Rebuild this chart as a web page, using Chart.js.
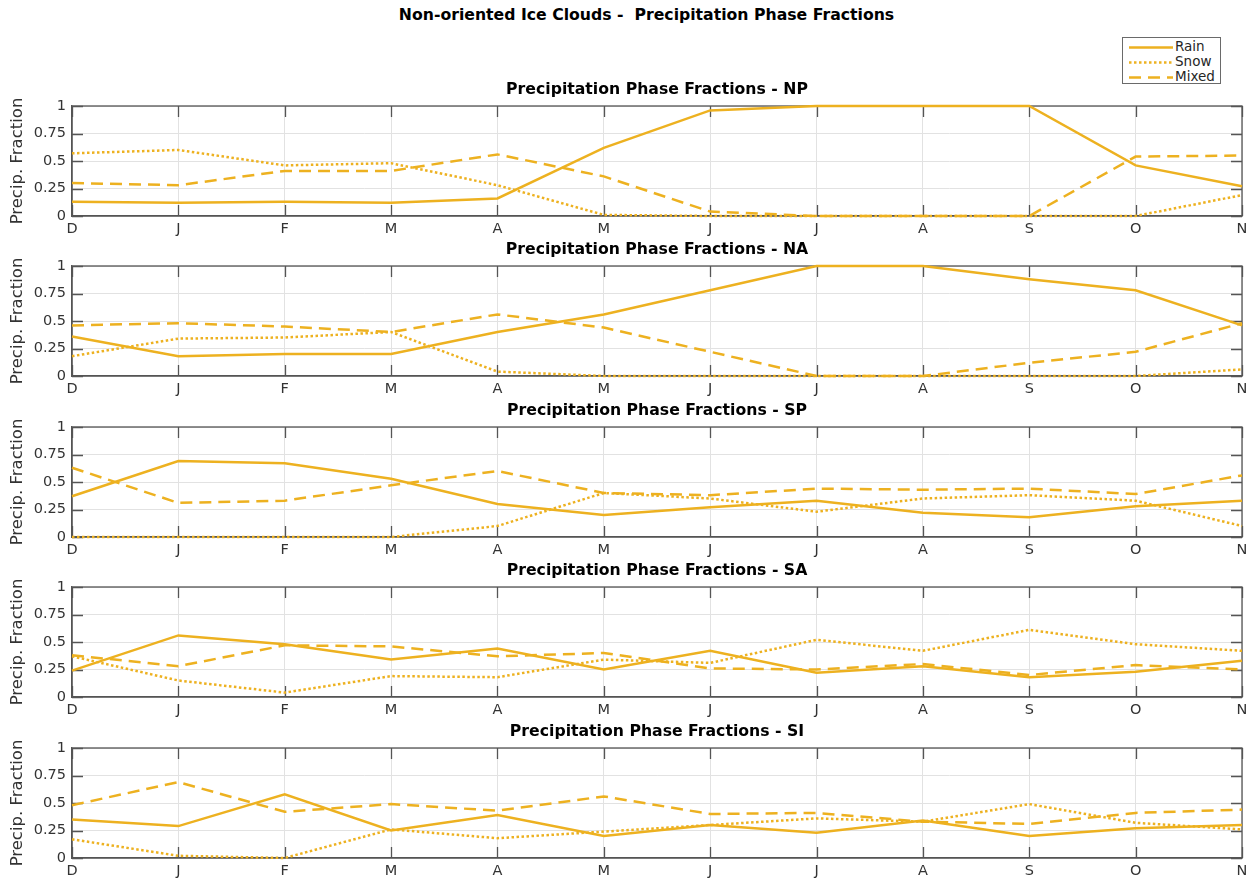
<!DOCTYPE html>
<html>
<head>
<meta charset="utf-8">
<title>Non-oriented Ice Clouds - Precipitation Phase Fractions</title>
<script src="https://cdn.jsdelivr.net/npm/chart.js@4.4.1/dist/chart.umd.min.js"></script>
<style>
  body { margin: 0; background: #fff; }
  #fig { position: relative; width: 1255px; height: 882px; background: #fff; overflow: hidden;
         font-family: "DejaVu Sans", sans-serif; }
  #suptitle { position: absolute; left: 0; width: 1293px; top: 6px; text-align: center;
              font-weight: bold; font-size: 15.7px; line-height: 18px; color: #000; white-space: pre; }
  #legend { position: absolute; left: 1122px; top: 37px; width: 97px; height: 45px;
            border: 1px solid #6a6a6a; background: #fff; }
  #legend svg { position: absolute; left: 0; top: 0; }
  #legend span { position: absolute; left: 52px; font-size: 13.5px; line-height: 15px; color: #262626; }
  canvas { position: absolute; left: 0; }
</style>
</head>
<body>
<div id="fig">
  <div id="suptitle">Non-oriented Ice Clouds -  Precipitation Phase Fractions</div>
  <div id="legend">
    <svg width="97" height="45">
      <line x1="6" y1="9.5" x2="50" y2="9.5" stroke="#EDB120" stroke-width="2.5"/>
      <line x1="6" y1="24.5" x2="50" y2="24.5" stroke="#EDB120" stroke-width="2.5" stroke-dasharray="2.5 2.5"/>
      <line x1="6" y1="39.5" x2="50" y2="39.5" stroke="#EDB120" stroke-width="2.5" stroke-dasharray="12 7"/>
    </svg>
    <span style="top:1px">Rain</span>
    <span style="top:16px">Snow</span>
    <span style="top:31px">Mixed</span>
  </div>
</div>
<script>
// Month axis (December through November)
const months = ['D', 'J', 'F', 'M', 'A', 'M', 'J', 'J', 'A', 'S', 'O', 'N'];
const regions = ['NP', 'NA', 'SP', 'SA', 'SI'];
const yTicks = [0, 0.25, 0.5, 0.75, 1];

// Precipitation phase fractions per region
const rainNP  = [0.13, 0.12, 0.13, 0.12, 0.16, 0.62, 0.96, 1.00, 1.00, 1.00, 0.46, 0.27];
const snowNP  = [0.57, 0.60, 0.46, 0.48, 0.28, 0.01, 0.00, 0.00, 0.00, 0.00, 0.00, 0.19];
const mixedNP = [0.30, 0.28, 0.41, 0.41, 0.56, 0.36, 0.04, 0.00, 0.00, 0.00, 0.54, 0.55];

const rainNA  = [0.36, 0.18, 0.20, 0.20, 0.40, 0.56, 0.78, 1.00, 1.00, 0.88, 0.78, 0.46];
const snowNA  = [0.18, 0.34, 0.35, 0.40, 0.04, 0.00, 0.00, 0.00, 0.00, 0.00, 0.00, 0.06];
const mixedNA = [0.46, 0.48, 0.45, 0.40, 0.56, 0.44, 0.22, 0.00, 0.00, 0.12, 0.22, 0.48];

const rainSP  = [0.37, 0.69, 0.67, 0.53, 0.30, 0.20, 0.27, 0.33, 0.22, 0.18, 0.28, 0.33];
const snowSP  = [0.00, 0.00, 0.00, 0.00, 0.10, 0.40, 0.35, 0.23, 0.35, 0.38, 0.33, 0.10];
const mixedSP = [0.63, 0.31, 0.33, 0.47, 0.60, 0.40, 0.38, 0.44, 0.43, 0.44, 0.39, 0.56];

const rainSA  = [0.24, 0.56, 0.48, 0.34, 0.44, 0.25, 0.42, 0.22, 0.28, 0.18, 0.23, 0.33];
const snowSA  = [0.37, 0.15, 0.04, 0.19, 0.18, 0.34, 0.31, 0.52, 0.42, 0.61, 0.48, 0.42];
const mixedSA = [0.38, 0.28, 0.47, 0.46, 0.37, 0.40, 0.26, 0.25, 0.30, 0.20, 0.29, 0.25];

const rainSI  = [0.35, 0.29, 0.58, 0.25, 0.39, 0.20, 0.30, 0.23, 0.34, 0.20, 0.27, 0.30];
const snowSI  = [0.17, 0.02, 0.00, 0.26, 0.18, 0.24, 0.30, 0.36, 0.33, 0.49, 0.32, 0.26];
const mixedSI = [0.48, 0.69, 0.42, 0.49, 0.43, 0.56, 0.40, 0.41, 0.33, 0.31, 0.41, 0.44];

const panelData = {
  NP: [rainNP, snowNP, mixedNP],
  NA: [rainNA, snowNA, mixedNA],
  SP: [rainSP, snowSP, mixedSP],
  SA: [rainSA, snowSA, mixedSA],
  SI: [rainSI, snowSI, mixedSI]
};

// Styling
const LINE = '#EDB120';
const GRID = '#e2e2e2';
const AXIS = '#555555';
const TEXT = '#333333';
const FONT = "'DejaVu Sans', sans-serif";
const TICK_LEN = 11;
const panelTops = [106, 266, 427, 587, 748];   // top of each plot box in page pixels
const TITLE_H = 30, XAXIS_H = 20, CANVAS_H = 160, CANVAS_W = 1255;

// Closed axes box with inward tick marks on all four sides
const boxFrame = {
  id: 'boxFrame',
  beforeDatasetsDraw(chart) {
    const { ctx, chartArea: a, scales: { x, y } } = chart;
    ctx.save();
    ctx.strokeStyle = AXIS;
    ctx.lineWidth = 1.3;
    ctx.strokeRect(a.left, a.top, a.right - a.left, a.bottom - a.top);
    ctx.beginPath();
    x.ticks.forEach((t, i) => {
      const px = Math.round(x.getPixelForTick(i)) + 0.5;
      ctx.moveTo(px, a.bottom); ctx.lineTo(px, a.bottom - TICK_LEN);
      ctx.moveTo(px, a.top);    ctx.lineTo(px, a.top + TICK_LEN);
    });
    y.ticks.forEach((t, i) => {
      const py = Math.round(y.getPixelForTick(i)) + 0.5;
      ctx.moveTo(a.left, py);  ctx.lineTo(a.left + TICK_LEN, py);
      ctx.moveTo(a.right, py); ctx.lineTo(a.right - TICK_LEN, py);
    });
    ctx.stroke();
    ctx.restore();
  }
};

function series(label, values, dash) {
  return {
    label, data: values,
    borderColor: LINE, backgroundColor: LINE,
    borderWidth: 2.5, borderDash: dash,
    pointRadius: 0, pointHoverRadius: 0,
    tension: 0, fill: false, clip: false
  };
}

const fig = document.getElementById('fig');

regions.forEach((region, idx) => {
  const [rain, snow, mixed] = panelData[region];
  const canvas = document.createElement('canvas');
  canvas.width = CANVAS_W;
  canvas.height = CANVAS_H;
  canvas.style.top = (panelTops[idx] - TITLE_H) + 'px';
  canvas.style.width = CANVAS_W + 'px';
  canvas.style.height = CANVAS_H + 'px';
  fig.appendChild(canvas);

  new Chart(canvas, {
    type: 'line',
    data: {
      labels: months,
      datasets: [
        series('Rain', rain, []),
        series('Snow', snow, [2.5, 2.5]),
        series('Mixed', mixed, [12, 7])
      ]
    },
    options: {
      responsive: false,
      animation: false,
      devicePixelRatio: 1,
      events: [],
      layout: { padding: { left: 0, right: 13, top: 0, bottom: 0 } },
      plugins: {
        legend: { display: false },
        tooltip: { enabled: false },
        title: {
          display: true,
          text: 'Precipitation Phase Fractions - ' + region,
          fullSize: false,
          color: '#000',
          font: { family: FONT, size: 15.7, weight: 'bold', lineHeight: '18px' },
          padding: { top: 5, bottom: 7 }
        }
      },
      scales: {
        x: {
          type: 'category',
          offset: false,
          grid: { color: GRID, drawTicks: false, lineWidth: 1 },
          border: { display: true, color: AXIS, width: 1.3 },
          ticks: { autoSkip: false, maxRotation: 0, padding: 5, color: TEXT,
                   font: { family: FONT, size: 14.5 } },
          afterFit(scale) { scale.height = XAXIS_H; }
        },
        y: {
          min: 0, max: 1,
          afterBuildTicks(scale) { scale.ticks = yTicks.map(v => ({ value: v })); },
          grid: { color: GRID, drawTicks: false, lineWidth: 1 },
          border: { display: true, color: AXIS, width: 1.3 },
          ticks: { padding: 6, color: TEXT, font: { family: FONT, size: 14.5 },
                   callback: (v) => String(v) },
          title: {
            display: true, text: 'Precip. Fraction', color: TEXT,
            font: { family: FONT, size: 16.5 },
            padding: { top: 8, bottom: 0 }
          },
          afterFit(scale) { scale.width = 72; }
        }
      }
    },
    plugins: [boxFrame]
  });
});
</script>
</body>
</html>
